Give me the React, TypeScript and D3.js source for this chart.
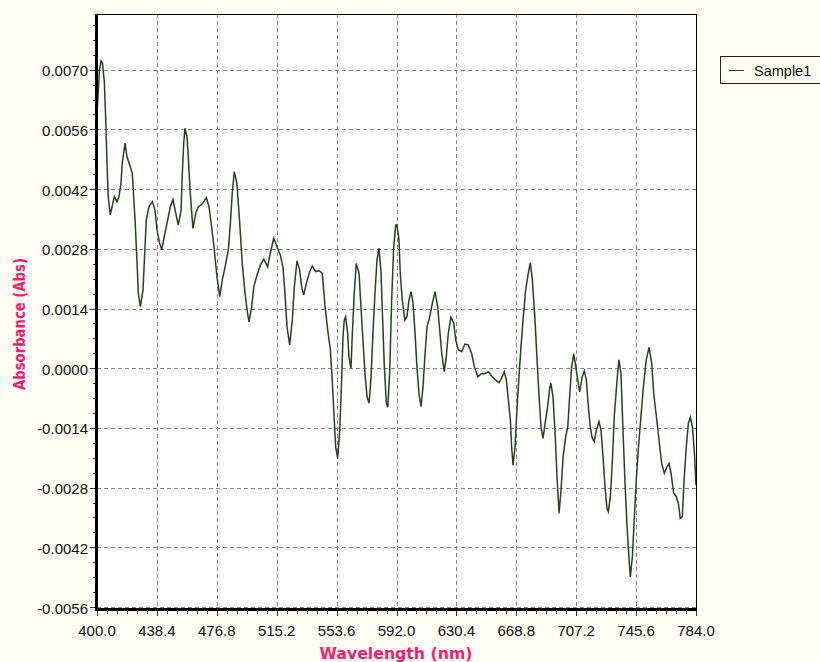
import React from "react";
import * as d3 from "d3";

// Spectrum samples: wavelength (nm) and absorbance (Abs)
const wavelengths = [
  400.0, 401.6, 402.6, 403.5, 404.7, 405.6, 406.4, 407.2, 408.5, 411.1,
  412.8, 414.1, 415.4, 416.2, 418.0, 419.2, 421.0, 422.6, 424.4, 425.6,
  426.5, 427.8, 429.5, 430.3, 431.6, 433.3, 435.5, 437.2, 438.5, 440.2,
  441.5, 443.1, 444.9, 447.0, 448.7, 450.5, 452.1, 453.9, 454.7, 455.6,
  456.4, 457.7, 458.5, 459.8, 461.5, 463.3, 464.9, 466.7, 468.0, 470.1,
  471.8, 473.5, 475.2, 476.9, 478.7, 480.3, 482.1, 484.2, 485.5, 486.7,
  488.0, 489.7, 491.5, 493.1, 494.9, 496.2, 497.4, 499.2, 500.5, 502.6,
  504.7, 506.9, 509.4, 511.1, 513.3, 515.4, 517.5, 519.2, 520.5, 521.8,
  523.5, 525.2, 526.5, 528.2, 529.9, 531.2, 532.5, 534.2, 536.4, 538.0,
  540.2, 542.3, 544.4, 546.2, 547.9, 549.6, 550.8, 552.1, 553.0, 554.3,
  555.6, 556.9, 557.7, 558.5, 559.4, 560.7, 561.5, 562.8, 563.7, 564.9,
  566.2, 568.0, 569.2, 570.5, 571.8, 573.1, 574.4, 575.7, 576.9, 578.2,
  579.5, 580.8, 582.1, 582.9, 584.2, 585.5, 586.4, 587.6, 588.9, 590.2,
  591.5, 592.3, 593.6, 594.4, 595.7, 597.4, 598.7, 600.0, 601.3, 602.6,
  603.9, 605.1, 606.4, 607.7, 609.0, 610.3, 611.6, 613.3, 615.0, 616.7,
  618.4, 619.7, 621.0, 622.6, 623.9, 625.2, 626.9, 628.7, 630.0, 631.7,
  633.8, 635.9, 638.0, 640.2, 641.9, 644.1, 646.2, 648.7, 650.9, 653.0,
  655.2, 657.7, 659.4, 661.1, 662.4, 663.7, 665.0, 665.8, 666.7, 668.0,
  669.2, 670.5, 671.8, 673.1, 674.8, 676.5, 677.8, 679.1, 680.8, 682.1,
  683.4, 684.6, 685.9, 687.6, 688.9, 690.2, 691.0, 692.3, 693.6, 694.9,
  696.2, 697.5, 698.8, 700.5, 701.8, 703.0, 704.3, 705.6, 706.9, 708.2,
  709.4, 711.1, 712.4, 713.7, 715.0, 716.2, 717.5, 718.8, 720.1, 721.8,
  723.1, 724.4, 725.7, 726.9, 727.8, 729.1, 730.3, 731.6, 733.4, 734.6,
  735.9, 737.2, 738.5, 739.8, 741.1, 741.9, 743.2, 744.5, 745.7, 747.0,
  748.7, 750.5, 752.1, 753.9, 755.6, 756.9, 758.6, 760.3, 762.0, 763.7,
  765.4, 766.7, 768.0, 769.7, 771.4, 772.7, 773.9, 775.2, 776.5, 777.8,
  779.1, 780.4, 781.7, 783.0, 784.0,
];

const absorbance = [
  0.00601, 0.00702, 0.00723, 0.00718, 0.00674, 0.00584, 0.00484, 0.00405, 0.00362, 0.00405,
  0.00393, 0.00405, 0.00437, 0.00484, 0.0053, 0.00498, 0.00479, 0.0046, 0.0035, 0.00256,
  0.00178, 0.00147, 0.00186, 0.00249, 0.0035, 0.00381, 0.00393, 0.00373, 0.00326, 0.00295,
  0.0028, 0.00311, 0.00342, 0.00381, 0.00398, 0.00366, 0.00338, 0.00373, 0.00459, 0.0053,
  0.00565, 0.00545, 0.00498, 0.00413, 0.0033, 0.00366, 0.00381, 0.00385, 0.0039, 0.00402,
  0.00381, 0.00334, 0.0028, 0.00217, 0.0017, 0.00209, 0.0024, 0.0028, 0.00342, 0.00413,
  0.00463, 0.00436, 0.00342, 0.00248, 0.00179, 0.00139, 0.00111, 0.00147, 0.00193, 0.00221,
  0.00244, 0.00258, 0.0024, 0.00272, 0.00307, 0.00287, 0.00268, 0.0024, 0.00178, 0.001,
  0.00057, 0.00115, 0.00193, 0.00254, 0.00233, 0.00193, 0.00174, 0.00201, 0.00229, 0.00242,
  0.00229, 0.00231, 0.00225, 0.00147, 0.00092, 0.00045, -0.00025, -0.00119, -0.00182, -0.00209,
  -0.00143, -0.00018, 0.00076, 0.00115, 0.00123, 0.00084, 0.00029, 0.00002, 0.00084, 0.00178,
  0.00248, 0.00225, 0.00147, 0.00068, -0.0001, -0.00064, -0.0008, -0.00018, 0.00084, 0.00178,
  0.00256, 0.00284, 0.00225, 0.00139, 0.00006, -0.0008, -0.00089, -0.0001, 0.00162, 0.00287,
  0.00338, 0.00338, 0.00303, 0.00225, 0.00162, 0.00115, 0.00123, 0.00162, 0.00182, 0.00155,
  0.00084, 0.00006, -0.00057, -0.00088, -0.00041, 0.00037, 0.001, 0.00123, 0.00155, 0.00182,
  0.00147, 0.00092, 0.00037, -0.00006, 0.00029, 0.00084, 0.00122, 0.00108, 0.00068, 0.00045,
  0.00041, 0.00059, 0.00057, 0.00037, 0.00006, -0.00018, -0.00011, -0.0001, -0.00006, -0.00016,
  -0.00024, -0.00032, -0.00021, -0.00006, -0.00025, -0.00072, -0.00119, -0.00182, -0.00225, -0.00182,
  -0.00096, -0.00018, 0.00053, 0.00115, 0.00186, 0.00225, 0.0025, 0.00209, 0.00115, 0.00022,
  -0.00064, -0.00135, -0.00162, -0.00119, -0.00088, -0.00045, -0.00033, -0.00064, -0.00143, -0.00252,
  -0.00338, -0.00283, -0.00205, -0.00158, -0.00135, -0.00064, 0.00006, 0.00036, 0.00006, -0.00025,
  -0.00053, -0.00018, -0.00004, -0.00025, -0.00088, -0.00135, -0.00162, -0.0017, -0.00143, -0.00123,
  -0.00143, -0.00205, -0.00276, -0.00326, -0.00334, -0.00299, -0.00221, -0.00111, -0.00025, 0.00022,
  -0.0001, -0.00143, -0.00268, -0.00369, -0.00447, -0.00487, -0.0044, -0.00346, -0.0026, -0.00189,
  -0.00111, -0.00033, 0.00022, 0.00051, 0.00014, -0.00057, -0.00111, -0.00166, -0.00221, -0.00244,
  -0.00229, -0.00221, -0.00244, -0.00291, -0.00299, -0.00314, -0.0035, -0.00346, -0.00252, -0.00182,
  -0.00127, -0.00113, -0.00135, -0.00197, -0.00272,
];

const xTicks = [400.0, 438.4, 476.8, 515.2, 553.6, 592.0, 630.4, 668.8, 707.2, 745.6, 784.0];
const yTicks = [-0.0056, -0.0042, -0.0028, -0.0014, 0.0, 0.0014, 0.0028, 0.0042, 0.0056, 0.007];
const seriesName = "Sample1";
const xTitle = "Wavelength (nm)";
const yTitle = "Absorbance (Abs)";

const W = 820;
const H = 662;
const left = 97;
const right = 696;
const top = 14;
const bottom = 608;

const bg = "#fefef4";
const lineColor = "#2b3f23";
const titleColor = "#ff1a6e";
const gridColor = "#8a8a8a";
const font = "'Liberation Sans', Arial, sans-serif";
const boldFont = "'DejaVu Sans', Verdana, sans-serif";

export default function App() {
  const x = d3.scaleLinear().domain([400, 784]).range([left, right]);
  const y = d3.scaleLinear().domain([-0.0056, 0.007]).range([bottom, 70.7]);

  const points: [number, number][] = wavelengths.map((w, i) => [w, absorbance[i]]);
  const path = d3
    .line<[number, number]>()
    .x((d) => x(d[0]))
    .y((d) => y(d[1]))(points) as string;

  // minor ticks: 6 per x interval, 4 per y interval
  const xMinor: number[] = [];
  for (let i = 0; i < xTicks.length - 1; i++) {
    for (let k = 1; k < 6; k++) xMinor.push(xTicks[i] + ((xTicks[i + 1] - xTicks[i]) * k) / 6);
  }
  const yMinor: number[] = [];
  const yStep = 0.0014;
  for (let v = -0.0056 + yStep / 4; y(v) > top + 1; v += yStep / 4) {
    if (Math.abs(Math.round(v / yStep) * yStep - v) > 1e-7) yMinor.push(v);
  }

  return (
    <svg
      width={W}
      height={H}
      style={{ position: "absolute", left: 0, top: 0, display: "block" }}
      shapeRendering="auto"
    >
      <defs>
        <clipPath id="plotClip">
          <rect x={left} y={top} width={right - left} height={bottom - top + 1} />
        </clipPath>
      </defs>
      <rect x={0} y={0} width={W} height={H} fill={bg} />
      <rect x={left} y={top} width={right - left} height={bottom - top} fill="#ffffff" />

      {/* grid */}
      <g stroke={gridColor} strokeWidth={1} strokeDasharray="4,3" shapeRendering="crispEdges">
        {xTicks.slice(1, -1).map((t) => (
          <line key={"gx" + t} x1={Math.round(x(t)) + 0.5} x2={Math.round(x(t)) + 0.5} y1={top} y2={bottom} />
        ))}
        {yTicks.map((t) => (
          <line key={"gy" + t} x1={left} x2={right} y1={Math.round(y(t)) - 0.5} y2={Math.round(y(t)) - 0.5} />
        ))}
      </g>

      {/* spectrum */}
      <path d={path} fill="none" stroke={lineColor} strokeWidth={1.5} strokeLinejoin="miter" clipPath="url(#plotClip)" />

      {/* frame */}
      <g shapeRendering="crispEdges">
        <line x1={left} x2={right + 1} y1={top + 0.5} y2={top + 0.5} stroke="#000" strokeWidth={1} />
        <line x1={right + 0.5} x2={right + 0.5} y1={top} y2={bottom + 2} stroke="#000" strokeWidth={1} />
        <line x1={left - 0.5} x2={left - 0.5} y1={top} y2={bottom + 3} stroke="#000" strokeWidth={3} />
        <line x1={left - 2} x2={right + 1} y1={bottom + 1.5} y2={bottom + 1.5} stroke="#000" strokeWidth={3} />
      </g>

      {/* axis ticks and labels */}
      <g shapeRendering="crispEdges" stroke="#333">
        {yTicks.map((t) => (
          <line key={"yt" + t} x1={left - 7} x2={left - 2} y1={Math.round(y(t)) - 0.5} y2={Math.round(y(t)) - 0.5} />
        ))}
        {yMinor.map((t, i) => (
          <line key={"ym" + i} x1={left - 4} x2={left - 2} y1={Math.round(y(t)) - 0.5} y2={Math.round(y(t)) - 0.5} />
        ))}
        {xTicks.map((t) => (
          <line key={"xt" + t} x1={Math.round(x(t)) + 0.5} x2={Math.round(x(t)) + 0.5} y1={bottom + 3} y2={bottom + 8} />
        ))}
        {xMinor.map((t, i) => (
          <line key={"xm" + i} x1={Math.round(x(t)) + 0.5} x2={Math.round(x(t)) + 0.5} y1={bottom + 3} y2={bottom + 6} />
        ))}
      </g>
      <g fontFamily={font} fontSize={15} fill="#111">
        {yTicks.map((t) => (
          <text key={"yl" + t} x={88} y={y(t)} textAnchor="end" dominantBaseline="central">
            {d3.format(".4f")(t).replace("−", "-")}
          </text>
        ))}
        {xTicks.map((t) => (
          <text key={"xl" + t} x={x(t)} y={636} textAnchor="middle">
            {d3.format(".1f")(t)}
          </text>
        ))}
      </g>

      {/* axis titles */}
      <text
        x={396}
        y={659}
        textAnchor="middle"
        fontFamily={boldFont}
        fontWeight="bold"
        fontSize={15}
        fill={titleColor}
        textLength={153}
        lengthAdjust="spacingAndGlyphs"
      >
        {xTitle}
      </text>
      <text
        transform={`translate(25,324) rotate(-90)`}
        textAnchor="middle"
        fontFamily={boldFont}
        fontWeight="bold"
        fontSize={15}
        fill={titleColor}
        textLength={132}
        lengthAdjust="spacingAndGlyphs"
      >
        {yTitle}
      </text>

      {/* legend */}
      <g shapeRendering="crispEdges">
        <rect x={720.5} y={56.5} width={120} height={27} fill={bg} stroke="#222" strokeWidth={1} />
        <line x1={729} x2={744} y1={70.5} y2={70.5} stroke={lineColor} strokeWidth={1.5} />
      </g>
      <text x={754} y={75.5} fontFamily={font} fontSize={14.5} fill="#111">
        {seriesName}
      </text>
    </svg>
  );
}
